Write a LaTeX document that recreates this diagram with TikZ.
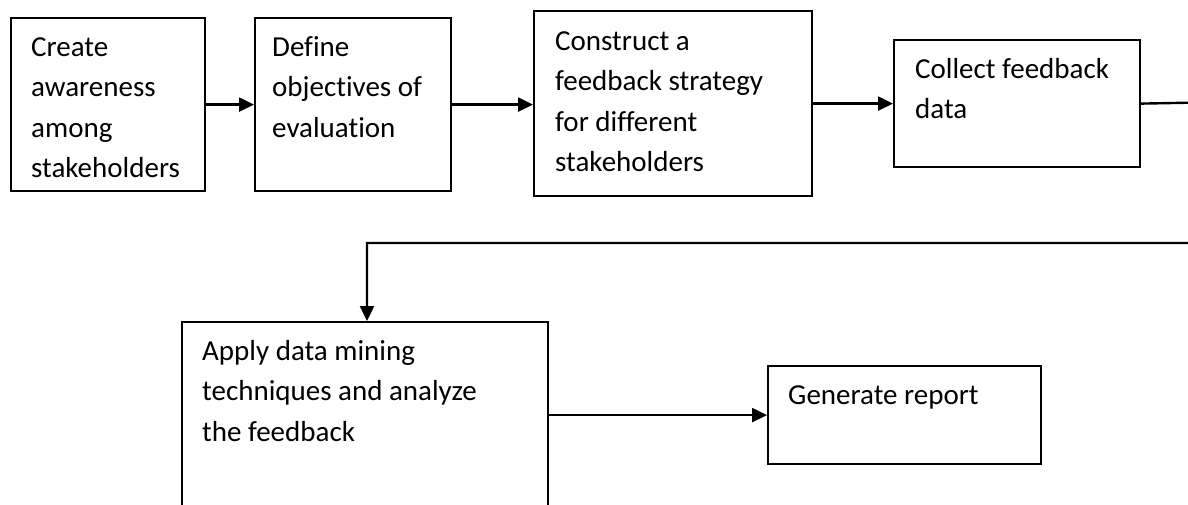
\documentclass[tikz,border=0pt]{standalone}
\usepackage{fontspec}
\setmainfont{Carlito}[Ligatures={NoCommon}]
\usetikzlibrary{arrows.meta}
\tikzset{
  box/.style={draw=black, line width=2.2pt, rectangle, inner sep=0pt, anchor=north west},
  txt/.style={inner sep=0pt, anchor=base west, font=\fontsize{29}{40.5}\selectfont},
  arr/.style={line width=2.4pt, -{Triangle[length=15pt,width=14pt]}},
}
\newcommand{\boxtext}[1]{\begin{minipage}[t]{400pt}\raggedright #1\end{minipage}}
\begin{document}
\begin{tikzpicture}[x=1pt,y=-1pt]
\useasboundingbox (0,0) rectangle (1188,504);
\clip (0,0) rectangle (1188,504);
% boxes
\node[box, minimum width=194pt, minimum height=173pt] (b1) at (10,17) {};
\node[box, minimum width=196pt, minimum height=173pt] (b2) at (254,17) {};
\node[box, minimum width=278pt, minimum height=185pt] (b3) at (533,10) {};
\node[box, minimum width=246pt, minimum height=127pt] (b4) at (893,39) {};
\node[box, minimum width=366pt, minimum height=200pt] (b5) at (181,321) {};
\node[box, minimum width=273pt, minimum height=98pt] (b6) at (767,365) {};
% texts
\node[txt] (t1) at (31,56) {\boxtext{Create\\awareness\\among\\stakeholders}};
\node[txt] (t2) at (272,56) {\boxtext{Define\\objectives of\\evaluation}};
\node[txt] (t3) at (555,50) {\boxtext{Construct a\\feedback strategy\\for different\\stakeholders}};
\node[txt] (t4) at (915,78) {\boxtext{Collect feedback\\data}};
\node[txt] (t5) at (202,360) {\boxtext{Apply data mining\\techniques and analyze\\the feedback}};
\node[txt] (t6) at (788,404) {\boxtext{Generate report}};
% connectors
\coordinate (r1) at (1200,102.5);
\coordinate (r2) at (1200,243);
\coordinate (r3) at (367,243);
\draw[arr] (b1.east) -- (b2.west);
\draw[arr] (b2.east) -- (b2.east -| b3.west);
\draw[arr] (b3.east) -- (b4.west);
\draw[arr] (b4.east) -- (r1) -- (r2) -- (r3) -- (r3 |- b5.north);
\draw[arr] (b5.east |- b6.west) -- (b6.west);
\end{tikzpicture}
\end{document}
